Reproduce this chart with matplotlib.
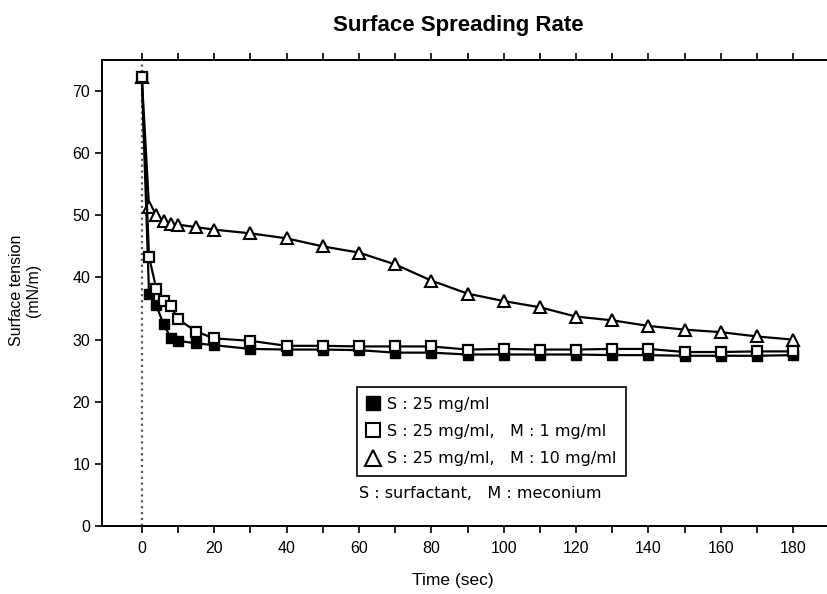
import numpy as np
import matplotlib
matplotlib.use('Agg')
import matplotlib.pyplot as plt

plt.rcParams['font.family'] = ['Liberation Sans', 'DejaVu Sans']

time_s = [0, 2, 4, 6, 8, 10, 15, 20, 30, 40, 50, 60, 70, 80, 90, 100, 110, 120, 130, 140, 150, 160, 170, 180]
s25 = [72.2, 37.3, 35.5, 32.5, 30.3, 29.8, 29.4, 29.1, 28.5, 28.4, 28.4, 28.3, 27.9, 27.9, 27.6, 27.6,
       27.6, 27.6, 27.5, 27.5, 27.4, 27.4, 27.4, 27.5]
s25_m1 = [72.2, 43.3, 38.2, 36.2, 35.4, 33.3, 31.3, 30.2, 29.8, 29.0, 29.0, 28.9, 28.9, 28.9, 28.4, 28.5,
          28.4, 28.4, 28.5, 28.5, 28.0, 28.0, 28.1, 28.1]
s25_m10 = [72.2, 51.3, 50.0, 49.1, 48.6, 48.5, 48.1, 47.7, 47.1, 46.3, 45.0, 44.0, 42.1, 39.5, 37.4, 36.2,
           35.2, 33.7, 33.1, 32.2, 31.6, 31.2, 30.5, 30.0]
labels = ['S : 25 mg/ml', 'S : 25 mg/ml,   M : 1 mg/ml', 'S : 25 mg/ml,   M : 10 mg/ml']

fig = plt.figure(figsize=(8.28, 5.94), dpi=100)
ax = fig.add_axes([102/828, 1 - 526/594, 1 - 102/828, (526 - 60)/594])

ax.axvline(0, color='0.35', ls=':', lw=1.6, zorder=1)

ax.plot(time_s, s25_m10, color='black', lw=1.6, marker='^', ms=8, mfc='white', mec='black', mew=1.5, zorder=3)
ax.plot(time_s, s25_m1, color='black', lw=1.6, marker='s', ms=7, mfc='white', mec='black', mew=1.6, zorder=4)
ax.plot(time_s, s25, color='black', lw=1.6, marker='s', ms=7, mfc='black', mec='black', zorder=2)

ax.set_xlim(-11, 189.6)
ax.set_ylim(0, 75)
ax.set_xticks(range(0, 181, 20))
ax.set_xticks(range(10, 181, 20), minor=True)
ax.set_yticks(range(0, 71, 10))
ax.tick_params(which='both', direction='out', length=5, width=1.2, top=True, labelsize=11.5, color='black')
ax.tick_params(axis='x', pad=6)
ax.spines['right'].set_visible(False)
for s in ['left', 'bottom', 'top']:
    ax.spines[s].set_linewidth(1.4)

h1, = ax.plot([], [], ls='none', marker='s', ms=10, mfc='black', mec='black')
h2, = ax.plot([], [], ls='none', marker='s', ms=10, mfc='white', mec='black', mew=1.5)
h3, = ax.plot([], [], ls='none', marker='^', ms=11, mfc='white', mec='black', mew=1.5)
leg = ax.legend([h1, h2, h3], labels, loc='upper left',
                bbox_to_anchor=(357/828, 1 - 387/594), bbox_transform=fig.transFigure,
                prop={'family': ['DejaVu Sans'], 'size': 11.5}, frameon=True, fancybox=False,
                edgecolor='black', handlelength=0.8, handletextpad=0.45, labelspacing=0.78,
                borderpad=0.6, borderaxespad=0)
leg.get_frame().set_linewidth(1.2)
leg.get_frame().set_alpha(1)

fig.text(359/828, 1 - 494/594, 'S : surfactant,   M : meconium', fontsize=11.5, va='center', ha='left',
         family=['DejaVu Sans'])
fig.text(458/828, 1 - 25/594, 'Surface Spreading Rate', fontsize=16, fontweight='bold', ha='center', va='center')
fig.text(453/828, 1 - 580/594, 'Time (sec)', fontsize=12.5, ha='center', va='center')
fig.text(25/828, 1 - 290/594, 'Surface tension\n(mN/m)', fontsize=11.5, rotation=90, ha='center', va='center',
         multialignment='center')

fig.savefig('out.png', dpi=100)
